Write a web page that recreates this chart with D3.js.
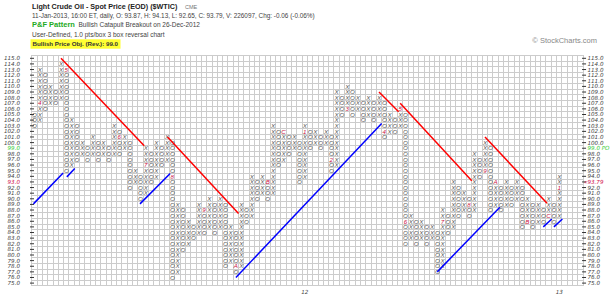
<!DOCTYPE html>
<html>
<head>
<meta charset="utf-8">
<script src="https://cdnjs.cloudflare.com/ajax/libs/d3/7.8.5/d3.min.js"></script>
<style>
  body { margin: 0; background: #fff; }
  svg { display: block; font-family: "Liberation Sans", Arial, sans-serif; }
</style>
</head>
<body>
<svg id="chart"></svg>
<script>
// P&F columns (box = 1.0). first column is O, then they alternate
const firstType = "O";
const colLow = [103,104,106,107,107,108,95,96,97,98,97,98,97,98,97,98,98,99,92,93,
                90,91,93,94,96,97,76,77,81,82,83,84,84,85,84,85,78,79,77,78,
                86,87,90,91,90,91,96,97,98,99,93,94,99,100,99,100,95,96,105,106,
                105,106,104,105,104,105,101,102,102,103,82,83,82,83,82,83,77,78,84,85,
                87,88,87,88,94,95,88,89,88,89,89,90,85,86,85,86,86,87,86,87];
const colHigh = [105,113,112,110,109,114,113,104,103,100,99,101,100,100,99,103,102,101,100,95,
                 94,99,98,100,99,101,100,89,88,86,85,89,88,90,89,90,89,85,84,89,
                 88,94,93,94,93,103,102,102,101,101,100,103,102,102,101,102,101,109,108,110,
                 109,108,107,108,107,108,107,105,104,106,105,87,86,86,85,85,84,88,87,93,
                 92,91,90,98,97,100,99,93,92,93,92,93,92,90,89,89,88,90,89,94];

// month markers (1..9, A, B, C) that replace a box
const markCol  = [1,6,16,21,26,32,38,44,47,51,56,59,66,69,70,77,82,85,87,93,97,99];
const markVal  = [107,113,101,96,94,88,78,93,102,102,97,106,102,106,86,86,89,95,93,86,87,92];
const markText = ["4","5","6","7","8","9","A","B","C","1","2","3","4","5","6","7","8","9","A","B","C","1"];

// trend lines: [col1, price1, col2, price2]
const redLines = [[5.0,115,20.7,99.45],[25.1,101,38.5,87.4],[65,109,68.7,105.5],
                  [69,107,82.5,93.2],[85,101,96.7,89.2]];
const blueLines = [[-0.2,89.1,5.4,94.6],[6.1,93.9,7.6,95.4],[19.9,89.1,25.6,94.5],
                   [38,76,65.5,103.4],[76,77,87.8,88.5],[96,85,97.6,86.4],[98,85,99.6,86.4]];

const yearCol = [51, 99];
const yearText = ["12", "13"];
const priceMin = 75, priceMax = 115;
const lastClose = 93.79;
const priceObj = 99.0;
const nGridCols = 104;

const W = 615, H = 298;
const svg = d3.select("#chart").attr("width", W).attr("height", H);
svg.append("rect").attr("width", W).attr("height", H).attr("fill", "#fff");

const x = d3.scaleLinear().domain([0, 99]).range([34.5, 559.2]);
const y = d3.scaleLinear().domain([priceMin, priceMax]).range([283.1, 58.3]);

const gridLeft = x(-0.5), gridRight = x(nGridCols - 0.5);
const gridTop = y(priceMax + 0.5), gridBottom = y(priceMin - 0.5);

// grid
const grid = svg.append("g").attr("stroke", "#cccccc").attr("stroke-width", 1).attr("shape-rendering", "crispEdges");
grid.selectAll("line.v").data(d3.range(nGridCols + 1)).enter().append("line")
  .attr("x1", k => x(k - 0.5)).attr("x2", k => x(k - 0.5))
  .attr("y1", gridTop).attr("y2", gridBottom);
grid.selectAll("line.h").data(d3.range(priceMin, priceMax + 2)).enter().append("line")
  .attr("x1", gridLeft).attr("x2", gridRight)
  .attr("y1", v => y(v - 0.5)).attr("y2", v => y(v - 0.5));

const rows = d3.range(priceMin, priceMax + 1);

// left axis
svg.append("g").selectAll("line").data(rows).enter().append("line")
  .attr("x1", 30).attr("x2", 34).attr("y1", v => y(v)).attr("y2", v => y(v))
  .attr("stroke", "#333").attr("stroke-width", 1);
svg.append("g").selectAll("text").data(rows).enter().append("text")
  .attr("x", 20).attr("y", v => y(v)).attr("dy", "0.35em")
  .attr("text-anchor", "end")
  .style("font-family", "'DejaVu Sans', sans-serif").style("font-style", "italic").style("font-size", "5.6px")
  .attr("fill", v => v === priceObj ? "#33cc33" : v === Math.floor(lastClose) ? "#d0104c" : "#444")
  .text(v => d3.format(".1f")(v));

// right axis
svg.append("g").selectAll("line").data(rows).enter().append("line")
  .attr("x1", gridRight - 1).attr("x2", gridRight + 3).attr("y1", v => y(v)).attr("y2", v => y(v))
  .attr("stroke", "#333").attr("stroke-width", 1);
svg.append("g").selectAll("text").data(rows.filter(v => v !== Math.floor(lastClose))).enter().append("text")
  .attr("x", 587.5).attr("y", v => y(v)).attr("dy", "0.35em")
  .style("font-family", "'DejaVu Sans', sans-serif").style("font-style", "italic").style("font-size", "5.6px")
  .attr("fill", v => v === priceObj ? "#33cc33" : "#444")
  .text(v => d3.format(".1f")(v) + (v === priceObj ? " PO" : ""));
svg.append("text")
  .attr("x", 584).attr("y", y(Math.floor(lastClose))).attr("dy", "0.35em")
  .style("font-family", "'DejaVu Sans', sans-serif").style("font-style", "italic").style("font-size", "5.6px")
  .attr("fill", "#d0104c").text("\u00ab" + lastClose);

// boxes
const boxes = [];
colLow.forEach((lo, i) => {
  const type = (i % 2 === 0) === (firstType === "O") ? "O" : "X";
  for (let v = lo; v <= colHigh[i]; v++) {
    const m = markCol.findIndex((c, j) => c === i && markVal[j] === v);
    boxes.push({ col: i, val: v, txt: m >= 0 ? markText[m] : type, mark: m >= 0 });
  }
});
svg.append("g").selectAll("text").data(boxes).enter().append("text")
  .attr("x", d => x(d.col)).attr("y", d => y(d.val)).attr("dy", "0.36em")
  .attr("text-anchor", "middle")
  .style("font-style", "italic").style("font-size", "6.2px")
  .attr("fill", d => d.mark ? "#cc1144" : "#555")
  .text(d => d.txt);

// trend lines
svg.append("g").selectAll("line").data(redLines).enter().append("line")
  .attr("x1", d => x(d[0])).attr("y1", d => y(d[1])).attr("x2", d => x(d[2])).attr("y2", d => y(d[3]))
  .attr("stroke", "#ff0000").attr("stroke-width", 1.5);
svg.append("g").selectAll("line").data(blueLines).enter().append("line")
  .attr("x1", d => x(d[0])).attr("y1", d => y(d[1])).attr("x2", d => x(d[2])).attr("y2", d => y(d[3]))
  .attr("stroke", "#0000ff").attr("stroke-width", 1.5);

// year labels
svg.append("g").selectAll("text").data(yearCol).enter().append("text")
  .attr("x", c => x(c)).attr("y", 294).attr("text-anchor", "middle")
  .style("font-family", "'DejaVu Sans', sans-serif").style("font-style", "italic").style("font-size", "5.6px")
  .attr("fill", "#444").text((c, i) => yearText[i]);

// header
const head = svg.append("g");
head.append("text").attr("x", 32).attr("y", 9).style("font-weight", "bold").style("font-size", "7.2px")
  .attr("fill", "#222").text("Light Crude Oil - Spot Price (EOD) ($WTIC)");
head.append("text").attr("x", 185).attr("y", 9).style("font-size", "5.5px").attr("fill", "#777").text("CME");
head.append("text").attr("x", 32).attr("y", 18).style("font-size", "6.4px").attr("fill", "#444")
  .text("11-Jan-2013, 16:00 ET, daily, O: 93.87, H: 94.13, L: 92.65, C: 93.79, V: 226097, Chg: -0.06 (-0.06%)");
head.append("text").attr("x", 32).attr("y", 27).style("font-weight", "bold").style("font-size", "7.5px")
  .attr("fill", "#22aa22").text("P&F Pattern");
head.append("text").attr("x", 78.5).attr("y", 27).style("font-size", "6.5px").attr("fill", "#444")
  .text("Bullish Catapult Breakout on 26-Dec-2012");
head.append("text").attr("x", 32).attr("y", 36.5).style("font-size", "6.5px").attr("fill", "#444")
  .text("User-Defined, 1.0 pts/box 3 box reversal chart");
head.append("rect").attr("x", 30.5).attr("y", 39.3).attr("width", 90).attr("height", 9.4).attr("fill", "#ffff33");
head.append("text").attr("x", 32.5).attr("y", 46.3).style("font-weight", "bold").style("font-size", "6.2px")
  .attr("fill", "#333").text("Bullish Price Obj. (Rev.): " + priceObj.toFixed(1));
head.append("text").attr("x", 597).attr("y", 42.5).attr("text-anchor", "end").style("font-size", "7.5px")
  .attr("fill", "#888").text("\u00a9 StockCharts.com");
</script>
</body>
</html>
